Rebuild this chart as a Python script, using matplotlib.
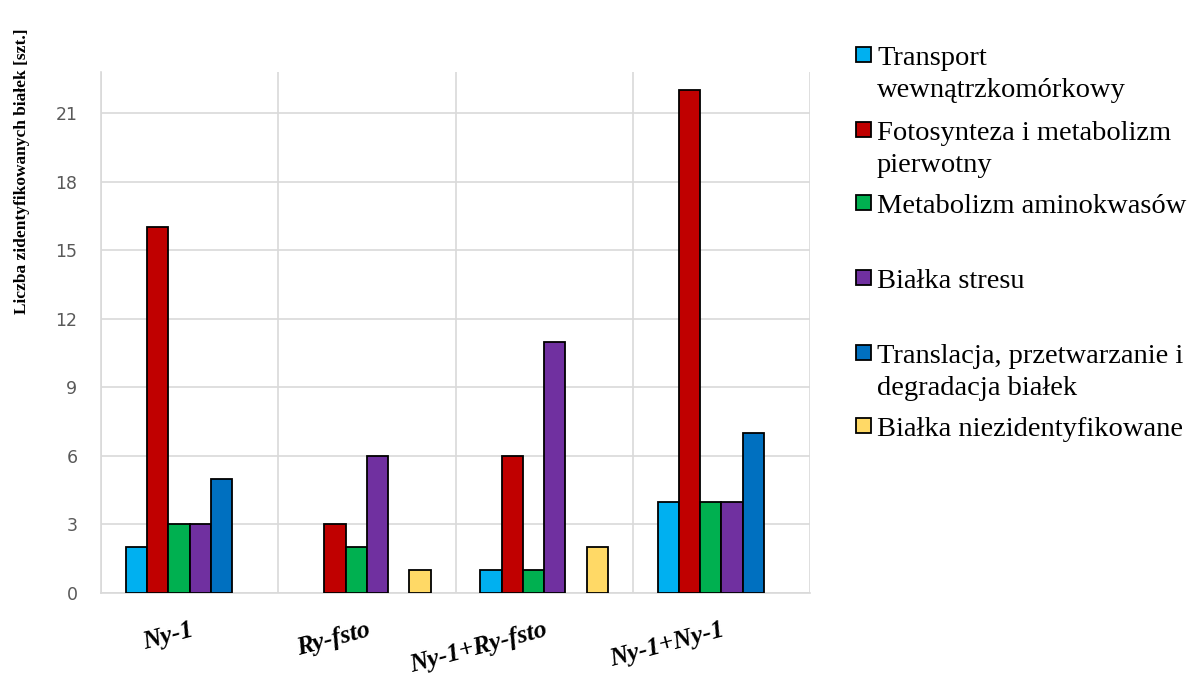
import matplotlib.pyplot as plt
from matplotlib.patches import Rectangle
import numpy as np

# categories (x axis) and series
categories = ['Ny-1', 'Ry-fsto', 'Ny-1+Ry-fsto', 'Ny-1+Ny-1']
series_names = ['Transport\nwewnątrzkomórkowy',
                'Fotosynteza i metabolizm\npierwotny',
                'Metabolizm aminokwasów',
                'Białka stresu',
                'Translacja, przetwarzanie i\ndegradacja białek',
                'Białka niezidentyfikowane']
transport = [2, 0, 1, 4]
fotosynteza = [16, 3, 6, 22]
aminokwasy = [3, 2, 1, 4]
stres = [3, 6, 11, 4]
translacja = [5, 0, 0, 7]
niezident = [0, 1, 2, 0]
values = [transport, fotosynteza, aminokwasy, stres, translacja, niezident]
colors = ['#00B0F0', '#C00000', '#00B050', '#7030A0', '#0070C0', '#FFD966']
yticks = [0, 3, 6, 9, 12, 15, 18, 21]

W, H = 1198, 679
fig = plt.figure(figsize=(W / 100, H / 100), dpi=100)
ax = fig.add_axes([101 / W, 1 - 593 / H, (810 - 101) / W, (593 - 72) / H])

x = np.arange(len(categories))
width = 0.12
for i, (vals, col) in enumerate(zip(values, colors)):
    lw = [1.3 if v > 0 else 0 for v in vals]
    ax.bar(x + (i - 2.5) * width, vals, width, color=col,
           edgecolor='black', linewidth=lw, zorder=3)

ax.set_xlim(-0.5, len(categories) - 0.5)
ax.set_ylim(0, 22.8)
ax.set_yticks(yticks)
ax.set_yticklabels([str(t) for t in yticks], color='#595959',
                   fontsize=12.5, family='DejaVu Sans')
ax.tick_params(axis='y', length=0, pad=17)
ax.set_xticks(x)
ax.set_xticklabels(categories, rotation=15, ha='right', va='top',
                   rotation_mode='anchor', fontsize=18.5, fontweight='bold',
                   fontstyle='italic', family='Liberation Serif')
ax.tick_params(axis='x', length=0, pad=18)
ax.set_xticks(np.arange(-0.5, len(categories)), minor=True)
ax.tick_params(axis='x', which='minor', length=0)
ax.grid(axis='y', color='#D9D9D9', linewidth=1.2, zorder=0)
ax.grid(axis='x', which='minor', color='#D9D9D9', linewidth=1.2, zorder=0)
ax.grid(axis='x', which='major', visible=False)
for s in ['top', 'right']:
    ax.spines[s].set_visible(False)
for s in ['left', 'bottom']:
    ax.spines[s].set_color('#D9D9D9')
    ax.spines[s].set_linewidth(1.2)

fig.text(22 / W, 1 - 171 / H, 'Liczba zidentyfikowanych białek [szt.]',
         rotation=90, ha='center', va='center', fontsize=12.5,
         fontweight='bold', family='Liberation Serif')

# legend drawn by hand (Excel-like irregular spacing)
sq_bottoms = [62, 137, 210, 285, 360, 433]
for name, col, yb in zip(series_names, colors, sq_bottoms):
    fig.patches.append(Rectangle((856 / W, 1 - yb / H), 15 / W, 15 / H,
                                 transform=fig.transFigure, facecolor=col,
                                 edgecolor='black', linewidth=1.3))
    for k, line in enumerate(name.split('\n')):
        fig.text(877 / W, 1 - (yb + 3 + 32 * k) / H, line, ha='left',
                 va='baseline', fontsize=20.5, family='Liberation Serif')

fig.savefig('out.png', dpi=100)
